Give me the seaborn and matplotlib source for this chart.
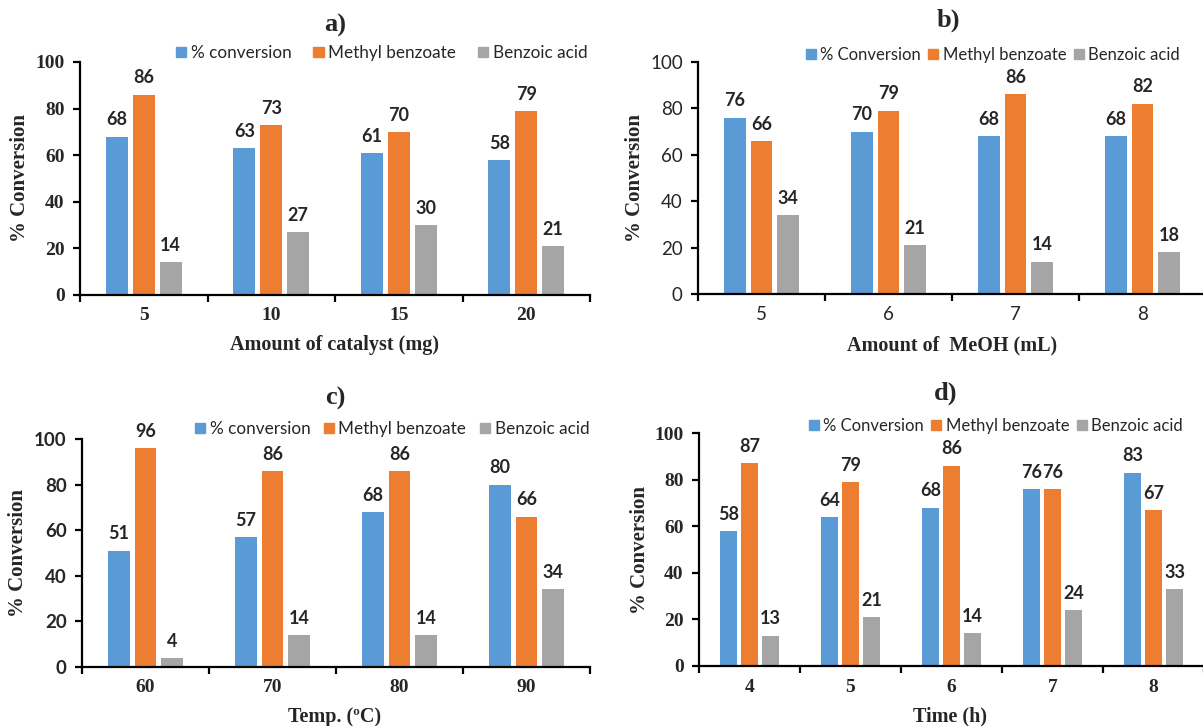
import matplotlib
matplotlib.use("Agg")
import matplotlib.pyplot as plt
import matplotlib.patches as mpatches
from matplotlib.ticker import FixedLocator, NullFormatter
import seaborn as sns
import pandas as pd

# ---------------- data ----------------
series_names = ["conv", "Methyl benzoate", "Benzoic acid"]

a_cats = ["5", "10", "15", "20"]
a_conv = [68, 63, 61, 58]
a_mb = [86, 73, 70, 79]
a_ba = [14, 27, 30, 21]

b_cats = ["5", "6", "7", "8"]
b_conv = [76, 70, 68, 68]
b_mb = [66, 79, 86, 82]
b_ba = [34, 21, 14, 18]

c_cats = ["60", "70", "80", "90"]
c_conv = [51, 57, 68, 80]
c_mb = [96, 86, 86, 66]
c_ba = [4, 14, 14, 34]

d_cats = ["4", "5", "6", "7", "8"]
d_conv = [58, 64, 68, 76, 83]
d_mb = [87, 79, 86, 76, 67]
d_ba = [13, 21, 14, 24, 33]

y_ticks = [0, 20, 40, 60, 80, 100]

# ---------------- style ----------------
sns.set_style("white")
SERIF = "Liberation Serif"
SANS = "Lato"
plt.rcParams["font.family"] = [SANS, "DejaVu Sans"]

COLORS = ["#5B9BD5", "#ED7D31", "#A5A5A5"]
W, H = 1203, 726
fig = plt.figure(figsize=(W / 100, H / 100), dpi=100)


def fx(px):
    return px / W


def fy(py):
    return 1 - py / H


def make_panel(rect_px, cats, conv, mb, ba, conv_label, title, title_xy,
               xlabel, xlabel_xy, ylabel_x, legend_xy,
               ytick_font, ytick_weight, xtick_font, xtick_weight,
               colspace=0.8, legsize=12.3):
    left, top, right, bottom = rect_px
    ax = fig.add_axes([fx(left), fy(bottom), fx(right - left), (bottom - top) / H])
    df = pd.DataFrame({
        "cat": cats * 3,
        "val": conv + mb + ba,
        "series": [series_names[0]] * len(cats) + [series_names[1]] * len(cats)
        + [series_names[2]] * len(cats),
    })
    sns.barplot(data=df, x="cat", y="val", hue="series", order=cats,
                hue_order=series_names, palette=COLORS, width=0.63, gap=0.18,
                ax=ax, legend=False, linewidth=0, saturation=1)
    n = len(cats)
    ax.set_xlim(-0.5, n - 0.5)
    ax.set_ylim(0, 100)
    ax.set_yticks(y_ticks)
    ax.set_xlabel("")
    ax.set_ylabel("")
    for s in ["top", "right"]:
        ax.spines[s].set_visible(False)
    for s in ["left", "bottom"]:
        ax.spines[s].set_linewidth(1.6)
        ax.spines[s].set_color("black")
    ax.xaxis.set_minor_locator(FixedLocator([i - 0.5 for i in range(n + 1)]))
    ax.xaxis.set_minor_formatter(NullFormatter())
    ax.tick_params(axis="x", which="major", length=0, pad=9)
    ax.tick_params(axis="x", which="minor", length=5, width=1.6, direction="out",
                   color="black", bottom=True)
    ax.tick_params(axis="y", which="major", length=5, width=1.6, direction="out",
                   color="black", left=True, pad=6)
    for lab in ax.get_yticklabels():
        lab.set_fontfamily(ytick_font)
        lab.set_fontweight(ytick_weight)
        lab.set_fontsize(14 if ytick_font == SERIF else 13.5)
    for lab in ax.get_xticklabels():
        lab.set_fontfamily(xtick_font)
        lab.set_fontweight(xtick_weight)
        lab.set_fontsize(14 if xtick_font == SERIF else 13.5)
    for cont in ax.containers:
        ax.bar_label(cont, fmt="%g", padding=6, fontsize=13,
                     fontweight="bold", fontfamily=SANS)
    # title
    fig.text(fx(title_xy[0]), fy(title_xy[1]), title, ha="center", va="center",
             fontfamily=SERIF, fontweight="bold", fontsize=19)
    fig.text(fx(xlabel_xy[0]), fy(xlabel_xy[1]), xlabel, ha="center", va="center",
             fontfamily=SERIF, fontweight="bold", fontsize=14.5)
    fig.text(fx(ylabel_x), fy((top + bottom) / 2), "% Conversion", ha="center",
             va="center", rotation=90, fontfamily=SERIF, fontweight="bold",
             fontsize=15)
    handles = [mpatches.Patch(color=c) for c in COLORS]
    labels = [conv_label, "Methyl benzoate", "Benzoic acid"]
    fig.legend(handles, labels, loc="center left",
               bbox_to_anchor=(fx(legend_xy[0]), fy(legend_xy[1])),
               ncol=3, frameon=False, fontsize=legsize, handlelength=0.6,
               handleheight=0.6, handletextpad=0.25, columnspacing=colspace,
               borderaxespad=0, borderpad=0)
    return ax


make_panel((80, 62, 590, 295), a_cats, a_conv, a_mb, a_ba, "% conversion",
           "a)", (335, 25), "Amount of catalyst (mg)", (335, 345), 20, (176, 53),
           SERIF, "bold", SERIF, "bold", colspace=1.3)
make_panel((698, 62, 1206, 294), b_cats, b_conv, b_mb, b_ba, "% Conversion",
           "b)", (948, 20), "Amount of  MeOH (mL)", (952, 345), 635, (806, 55),
           SANS, "normal", SANS, "normal", colspace=0.45, legsize=12.0)
make_panel((82, 439, 590, 667), c_cats, c_conv, c_mb, c_ba, "% conversion",
           "c)", (335, 398), "Temp. (\u00baC)", (335, 717), 18, (195, 429),
           SANS, "bold", SERIF, "bold")
make_panel((699, 433, 1204, 666), d_cats, d_conv, d_mb, d_ba, "% Conversion",
           "d)", (946, 393), "Time (h)", (950, 716), 640, (809, 426),
           SERIF, "bold", SERIF, "bold", colspace=0.45, legsize=12.0)

fig.savefig("out.png", dpi=100)
